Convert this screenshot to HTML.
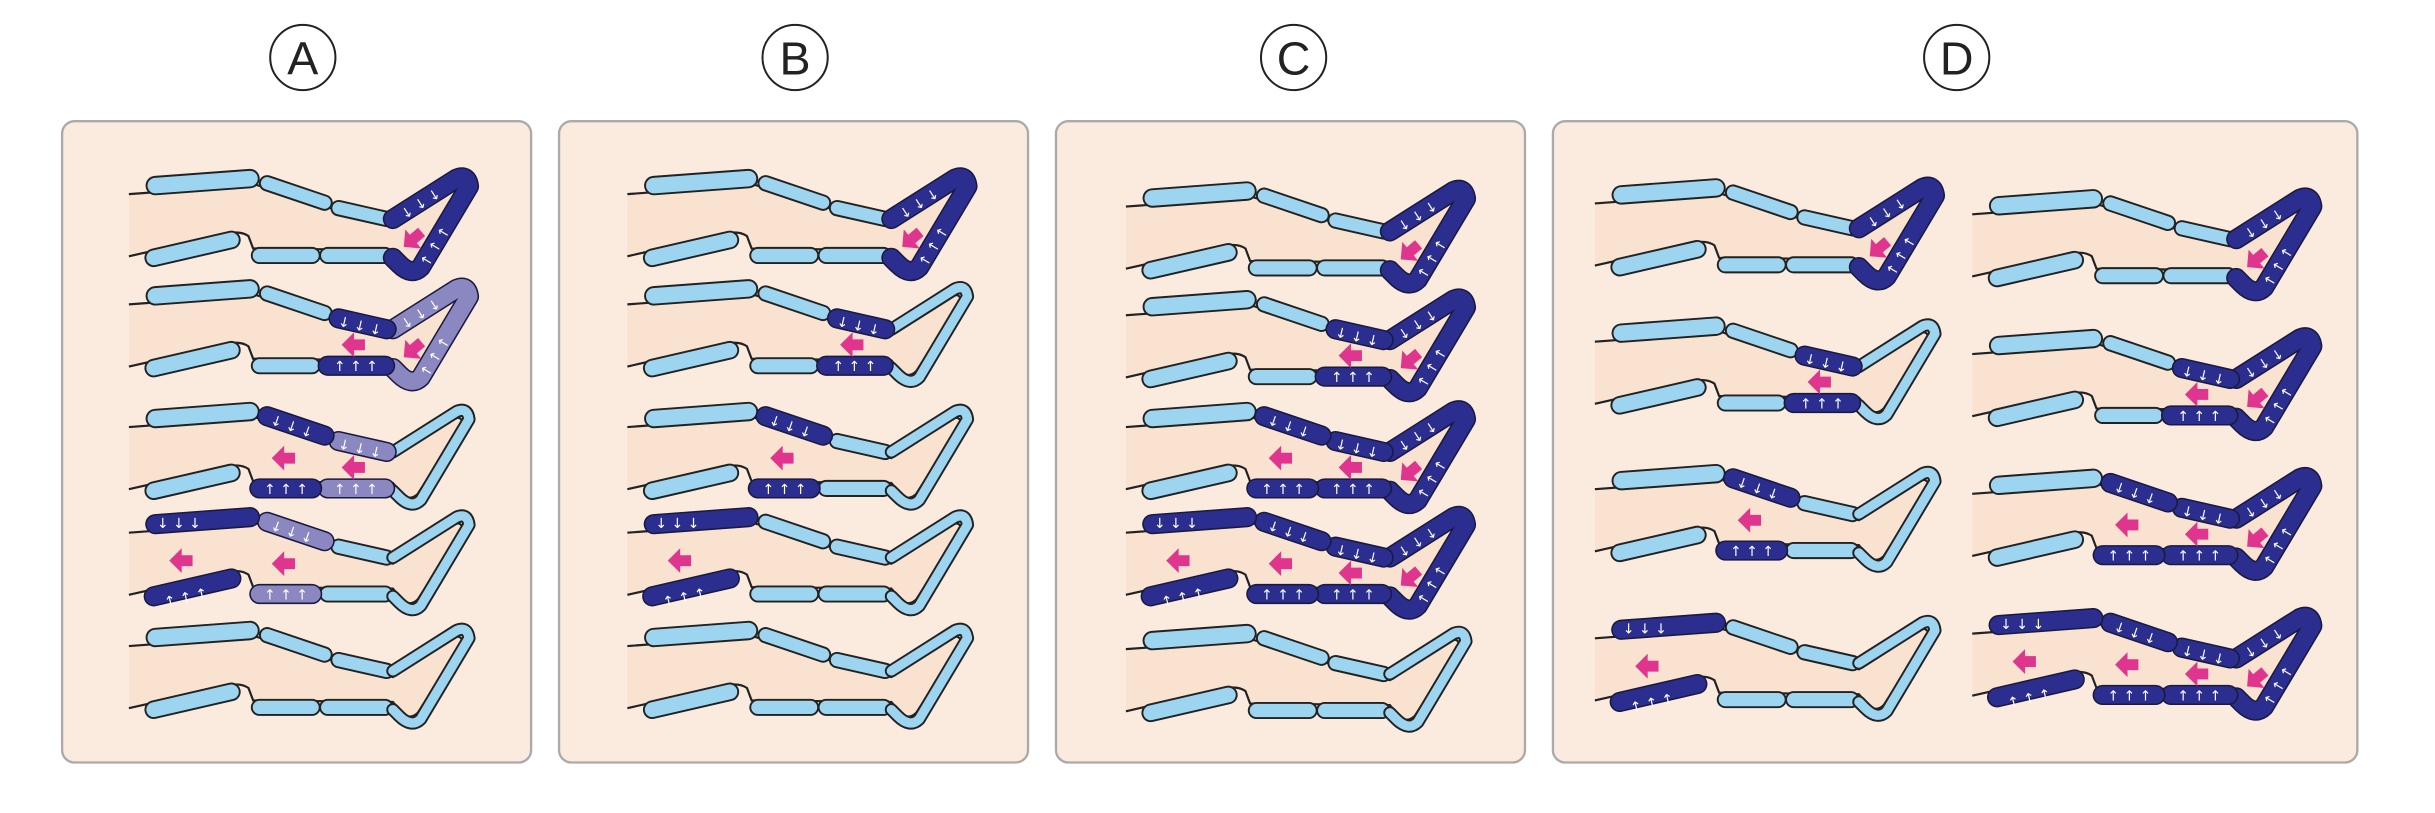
<!DOCTYPE html>
<html><head><meta charset="utf-8"><style>
html,body{margin:0;padding:0;background:#fff}
svg{display:block}
.o{stroke:#222;fill:none;stroke-linecap:round;stroke-linejoin:round}
.l{stroke:#9dd5f1;fill:none;stroke-linecap:round;stroke-linejoin:round}
.ao{stroke:#1a1a40;fill:none;stroke-linecap:round;stroke-linejoin:round}
.af{stroke:var(--c,#2b2e8e);fill:none;stroke-linecap:round;stroke-linejoin:round}
.w{fill:#fff;font-family:"DejaVu Sans",sans-serif;font-size:9px}
.pk{fill:#e0358f}
</style></head><body>
<svg width="2435" height="813" viewBox="0 0 1568 523.5" xmlns="http://www.w3.org/2000/svg" xmlns:xlink="http://www.w3.org/1999/xlink">
<defs>
<path id="T1" d="M17,5.5 L78,1"/>
<path id="T2" d="M89,4 L126,16.5"/>
<path id="T3" d="M135,20 L166,27"/>
<path id="B1" d="M16,52 L66,40.5"/>
<path id="B2" d="M84,50.5 L118,50.5"/>
<path id="B3" d="M128,50.5 L165,50.5"/>
<path id="F" d="M170,27 L211,1 Q218,-2 219,6 L188,58 Q182,64 174,56 L170,52"/>
<polygon id="pa" points="0,0 8,-8 8,-3.5 15,-3.5 15,3.5 8,3.5 8,8"/>
<g id="base">
<path d="M0,11 L82,5 L130,20 L170,31 L209,6 Q214,3 215,9 L186,54 Q181,59 176,54 L170,47 L80,46 L77,38 Q71,34 62,37 L0,51 Z" fill="#f9e2cf"/>
<path d="M0,11 L82,5 L130,20 L170,31 L209,6 Q214,3 215,9 L186,54 Q181,59 176,54 L170,47 L80,46 L77,38 Q71,34 62,37 L0,51" fill="none" stroke="#222" stroke-width="1.4"/>
<use href="#T1" class="o" style="stroke-width:12.5"/><use href="#T1" class="l" style="stroke-width:10"/>
<use href="#T2" class="o" style="stroke-width:10.5"/><use href="#T2" class="l" style="stroke-width:8"/>
<use href="#T3" class="o" style="stroke-width:10.5"/><use href="#T3" class="l" style="stroke-width:8"/>
<use href="#B1" class="o" style="stroke-width:12"/><use href="#B1" class="l" style="stroke-width:9.5"/>
<use href="#B2" class="o" style="stroke-width:11"/><use href="#B2" class="l" style="stroke-width:8.5"/>
<use href="#B3" class="o" style="stroke-width:11"/><use href="#B3" class="l" style="stroke-width:8.5"/>
<use href="#F" class="o" style="stroke-width:8.5"/><use href="#F" class="l" style="stroke-width:6"/>
</g>
<g id="aT1"><use href="#T1" class="ao" style="stroke-width:13"/><use href="#T1" class="af" style="stroke-width:11"/><text x="18" y="8" class="w">↓  ↓  ↓</text></g>
<g id="aT2"><use href="#T2" class="ao" style="stroke-width:13"/><use href="#T2" class="af" style="stroke-width:11"/><text x="91" y="12" class="w" transform="rotate(19 100 9)">↓ ↓ ↓</text></g>
<g id="aT3"><use href="#T3" class="ao" style="stroke-width:13"/><use href="#T3" class="af" style="stroke-width:11"/><text x="135" y="27" class="w" transform="rotate(13 145 23)">↓ ↓ ↓</text></g>
<g id="aB1"><use href="#B1" class="ao" style="stroke-width:13"/><use href="#B1" class="af" style="stroke-width:11"/><text x="22" y="55" class="w" transform="rotate(-13 40 50)">↑  ↑  ↑</text></g>
<g id="aB2"><use href="#B2" class="ao" style="stroke-width:13"/><use href="#B2" class="af" style="stroke-width:11"/><text x="87" y="54" class="w">↑ ↑ ↑</text></g>
<g id="aB3"><use href="#B3" class="ao" style="stroke-width:13"/><use href="#B3" class="af" style="stroke-width:11"/><text x="132" y="54" class="w">↑ ↑ ↑</text></g>
<g id="aF"><use href="#F" class="ao" style="stroke-width:13"/><use href="#F" class="af" style="stroke-width:11"/><text x="176" y="28" class="w" transform="rotate(-33 176 25)">↓ ↓ ↓</text><text x="190" y="60" class="w" transform="rotate(-59 190 57)">↑  ↑  ↑</text></g>
<use id="p1" href="#pa" class="pk" x="26" y="29"/>
<g id="p2"><use href="#pa" class="pk" x="92" y="31"/></g>
<g id="p3"><use href="#pa" class="pk" x="137" y="37"/></g>
<g id="pF"><use href="#pa" class="pk" transform="translate(177,45) rotate(-40)"/></g>
</defs>

<g fill="none" stroke="#222" stroke-width="1.3">
<circle cx="195" cy="37" r="21"/><circle cx="512" cy="37" r="21"/><circle cx="833" cy="37" r="21"/><circle cx="1260" cy="37" r="21"/>
</g>
<g font-family="Liberation Sans, sans-serif" font-size="30" text-anchor="middle" fill="#222">
<text x="195" y="48">A</text><text x="512" y="48">B</text><text x="833" y="48">C</text><text x="1260" y="48">D</text>
</g>

<g fill="#fbebdf" stroke="#aaa" stroke-width="1.5">
<rect x="40" y="78" width="302" height="413" rx="8"/>
<rect x="360" y="78" width="302" height="413" rx="8"/>
<rect x="680" y="78" width="302" height="413" rx="8"/>
<rect x="1000" y="78" width="518" height="413" rx="8"/>
</g>

<!-- A -->
<g transform="translate(83,114)"><use href="#base"/><use href="#aF"/><use href="#pF"/></g>
<g transform="translate(83,185)"><use href="#base"/><use href="#aF" style="--c:#8b87c0"/><use href="#aT3"/><use href="#aB3"/><use href="#p3"/><use href="#pF"/></g>
<g transform="translate(83,264)"><use href="#base"/><use href="#aT3" style="--c:#8b87c0"/><use href="#aB3" style="--c:#8b87c0"/><use href="#aT2"/><use href="#aB2"/><use href="#p2"/><use href="#p3"/></g>
<g transform="translate(83,332)"><use href="#base"/><use href="#aT2" style="--c:#8b87c0"/><use href="#aB2" style="--c:#8b87c0"/><use href="#aT1"/><use href="#aB1"/><use href="#p1"/><use href="#p2"/></g>
<g transform="translate(83,405)"><use href="#base"/></g>

<!-- B -->
<g transform="translate(404,114)"><use href="#base"/><use href="#aF"/><use href="#pF"/></g>
<g transform="translate(404,185)"><use href="#base"/><use href="#aT3"/><use href="#aB3"/><use href="#p3"/></g>
<g transform="translate(404,264)"><use href="#base"/><use href="#aT2"/><use href="#aB2"/><use href="#p2"/></g>
<g transform="translate(404,332)"><use href="#base"/><use href="#aT1"/><use href="#aB1"/><use href="#p1"/></g>
<g transform="translate(404,405)"><use href="#base"/></g>

<!-- C -->
<g transform="translate(725,122)"><use href="#base"/><use href="#aF"/><use href="#pF"/></g>
<g transform="translate(725,192)"><use href="#base"/><use href="#aF"/><use href="#aT3"/><use href="#aB3"/><use href="#p3"/><use href="#pF"/></g>
<g transform="translate(725,264)"><use href="#base"/><use href="#aF"/><use href="#aT3"/><use href="#aB3"/><use href="#aT2"/><use href="#aB2"/><use href="#p2"/><use href="#p3"/><use href="#pF"/></g>
<g transform="translate(725,332)"><use href="#base"/><use href="#aF"/><use href="#aT3"/><use href="#aB3"/><use href="#aT2"/><use href="#aB2"/><use href="#aT1"/><use href="#aB1"/><use href="#p1"/><use href="#p2"/><use href="#p3"/><use href="#pF"/></g>
<g transform="translate(725,407)"><use href="#base"/></g>

<!-- D left -->
<g transform="translate(1027,120)"><use href="#base"/><use href="#aF"/><use href="#pF"/></g>
<g transform="translate(1027,209)"><use href="#base"/><use href="#aT3"/><use href="#aB3"/><use href="#p3"/></g>
<g transform="translate(1027,304)"><use href="#base"/><use href="#aT2"/><use href="#aB2"/><use href="#p2"/></g>
<g transform="translate(1027,400)"><use href="#base"/><use href="#aT1"/><use href="#aB1"/><use href="#p1"/></g>

<!-- D right -->
<g transform="translate(1270,127)"><use href="#base"/><use href="#aF"/><use href="#pF"/></g>
<g transform="translate(1270,217)"><use href="#base"/><use href="#aF"/><use href="#aT3"/><use href="#aB3"/><use href="#p3"/><use href="#pF"/></g>
<g transform="translate(1270,307)"><use href="#base"/><use href="#aF"/><use href="#aT3"/><use href="#aB3"/><use href="#aT2"/><use href="#aB2"/><use href="#p2"/><use href="#p3"/><use href="#pF"/></g>
<g transform="translate(1270,397)"><use href="#base"/><use href="#aF"/><use href="#aT3"/><use href="#aB3"/><use href="#aT2"/><use href="#aB2"/><use href="#aT1"/><use href="#aB1"/><use href="#p1"/><use href="#p2"/><use href="#p3"/><use href="#pF"/></g>
</svg>
</body></html>
